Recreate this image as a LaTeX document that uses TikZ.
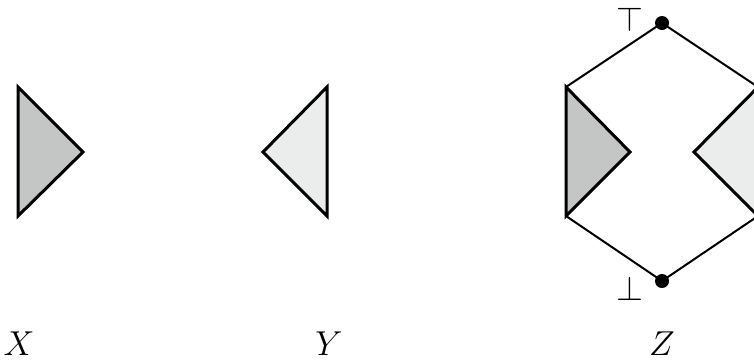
\documentclass[tikz,border=0pt]{standalone}
\usepackage{amssymb}
\definecolor{darkfill}{RGB}{196,198,197}
\definecolor{lightfill}{RGB}{235,237,236}
\tikzset{
  tri/.style={draw=black, line width=1.5pt, line join=miter},
  conn/.style={draw=black, line width=1pt},
  dotnode/.style={circle, fill=black, inner sep=0pt, minimum size=7pt},
  lab/.style={font=\fontsize{16}{19}\selectfont, inner sep=0pt},
}
\begin{document}
\begin{tikzpicture}[x=0.5pt, y=-0.5pt]
\useasboundingbox (0,0) rectangle (754,361);
\clip (0,0) rectangle (754,361);
% X
\filldraw[tri, fill=darkfill] (18,87) -- (83,152) -- (18,216) -- cycle;
% Y
\filldraw[tri, fill=lightfill] (327,87) -- (263,152) -- (327,216) -- cycle;
% Z
\coordinate (ltop) at (566,87);
\coordinate (lbot) at (566,216);
\coordinate (rtop) at (758,87);
\coordinate (rbot) at (758,216);
\node[dotnode] (top) at (662,23) {};
\node[dotnode] (bot) at (662,281) {};
\draw[conn] (ltop) -- (top.center) -- (rtop);
\draw[conn] (lbot) -- (bot.center) -- (rbot);
\filldraw[tri, fill=darkfill] (ltop) -- (630,152) -- (lbot) -- cycle;
\filldraw[tri, fill=lightfill] (rtop) -- (694,152) -- (rbot) -- cycle;
\node[lab] (tlab) at (630,19) {$\top$};
\node[lab] (blab) at (630,288) {$\bot$};
% labels
\node[lab] (xl) at (19,344) {$X$};
\node[lab] (yl) at (329,344) {$Y$};
\node[lab] (zl) at (662,344) {$Z$};
\end{tikzpicture}
\end{document}
